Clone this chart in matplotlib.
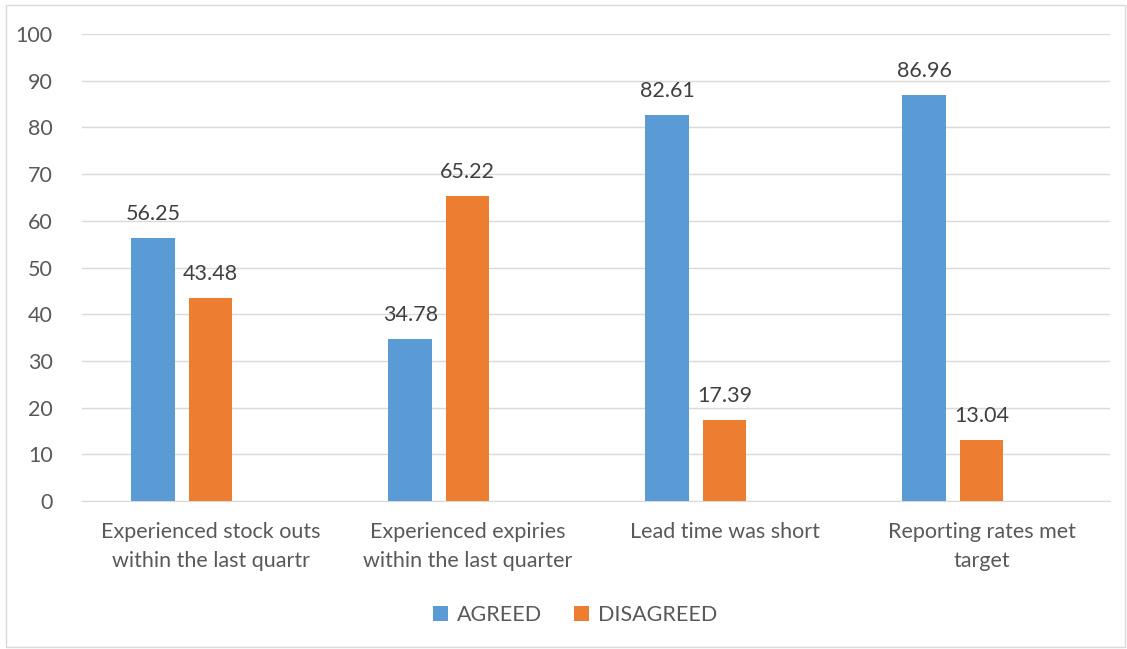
import matplotlib.pyplot as plt
import numpy as np
from matplotlib.patches import Rectangle

categories = ["Experienced stock outs\nwithin the last quartr",
              "Experienced expiries\nwithin the last quarter",
              "Lead time was short",
              "Reporting rates met\ntarget"]
agreed = [56.25, 34.78, 82.61, 86.96]
disagreed = [43.48, 65.22, 17.39, 13.04]

plt.rcParams['font.family'] = ['Lato', 'DejaVu Sans']
text_color = '#595959'
fs = 15.5

fig = plt.figure(figsize=(11.27, 6.49), dpi=100)
ax = fig.add_axes([82 / 1127, 1 - 501 / 649, (1110 - 82) / 1127, (501 - 34) / 649])

# chart border
fig.patches.append(Rectangle((6 / 1127, 2 / 649), 1119 / 1127, 642 / 649,
                             transform=fig.transFigure, fill=False,
                             edgecolor='#d9d9d9', linewidth=1))

x = np.arange(len(categories))
slot = 0.222
width = 0.171
b1 = ax.bar(x - slot, agreed, width, color='#5B9BD5', label='AGREED', zorder=3)
b2 = ax.bar(x, disagreed, width, color='#ED7D31', label='DISAGREED', zorder=3)

for bars in (b1, b2):
    for rect in bars:
        h = rect.get_height()
        ax.text(rect.get_x() + rect.get_width() / 2, h + 3.0, f"{h:.2f}",
                ha='center', va='bottom', fontsize=fs, color='#404040')

ax.set_xlim(-0.5, 3.5)
ax.set_ylim(0, 100)
ax.set_yticks(range(0, 101, 10))
ax.yaxis.grid(True, color='#d9d9d9', linewidth=1, zorder=0)
ax.set_xticks(x)
ax.set_xticklabels(categories, fontsize=fs, color=text_color, linespacing=1.6)
ax.tick_params(axis='y', length=0, labelsize=fs, labelcolor=text_color, pad=21)
ax.tick_params(axis='x', length=0, pad=15)
for s in ['top', 'right', 'left']:
    ax.spines[s].set_visible(False)
ax.spines['bottom'].set_color('#d9d9d9')

fig.legend(handles=[b1, b2], loc='center', bbox_to_anchor=(575 / 1127, 1 - 615 / 649),
           ncol=2, frameon=False, fontsize=fs, labelcolor=text_color,
           handlelength=0.7, handleheight=0.7, columnspacing=1.5, handletextpad=0.4)

plt.savefig('out.png', dpi=100)
plt.close()
